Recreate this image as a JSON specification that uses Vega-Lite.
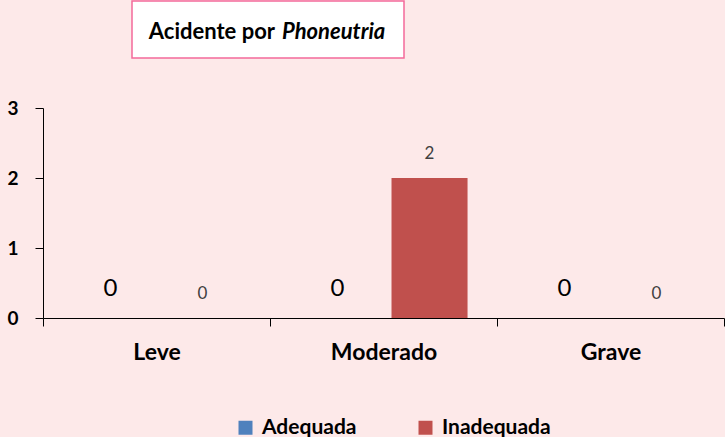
{
  "$schema": "https://vega.github.io/schema/vega-lite/v6.json",
  "background": "#FDE9E9",
  "padding": {"left": 6, "top": 0, "right": 0, "bottom": 80},
  "spacing": 40,
  "config": {
    "font": "Lato",
    "view": {"stroke": null}
  },
  "vconcat": [
    {
      "spacing": 0,
      "hconcat": [
        {
          "width": 88,
          "height": 57,
          "data": {"values": []},
          "mark": "point",
          "encoding": {},
          "view": {"stroke": null}
        },
        {
          "width": 272,
          "height": 57,
          "view": {"fill": "white", "stroke": "#F46A9B", "strokeWidth": 1.5},
          "layer": [
            {
              "data": {"values": [{"t": "Acidente por"}]},
              "mark": {"type": "text", "font": "Lato", "fontSize": 22, "fontWeight": "bold", "align": "right", "baseline": "middle", "dx": 7, "dy": 2, "color": "black"},
              "encoding": {"text": {"field": "t"}}
            },
            {
              "data": {"values": [{"t": "Phoneutria"}]},
              "mark": {"type": "text", "font": "Lato", "fontSize": 22, "fontWeight": "bold", "fontStyle": "italic", "align": "left", "baseline": "middle", "dx": 14, "dy": 2, "color": "black"},
              "encoding": {"text": {"field": "t"}}
            }
          ]
        }
      ]
    },
    {
      "width": 681,
      "height": 210,
      "data": {
        "values": [
          {"grau": "Leve", "conduta": "Adequada", "n": 0},
          {"grau": "Leve", "conduta": "Inadequada", "n": 0},
          {"grau": "Moderado", "conduta": "Adequada", "n": 0},
          {"grau": "Moderado", "conduta": "Inadequada", "n": 2},
          {"grau": "Grave", "conduta": "Adequada", "n": 0},
          {"grau": "Grave", "conduta": "Inadequada", "n": 0}
        ]
      },
      "encoding": {
        "x": {
          "field": "grau", "type": "nominal", "sort": ["Leve", "Moderado", "Grave"],
          "scale": {"paddingInner": 0, "paddingOuter": 0},
          "axis": {"title": null, "labelAngle": 0, "labelFontSize": 23, "labelFontWeight": "bold", "labelColor": "black", "labelPadding": 15, "tickSize": 8, "tickBand": "extent", "domainColor": "black", "tickColor": "black", "domainWidth": 1}
        },
        "xOffset": {
          "field": "conduta", "type": "nominal", "sort": ["Adequada", "Inadequada"],
          "scale": {"paddingInner": 0.174, "paddingOuter": 0.32}
        },
        "y": {
          "field": "n", "type": "quantitative",
          "scale": {"domain": [0, 3]},
          "axis": {"title": null, "values": [0, 1, 2, 3], "grid": false, "labelFontSize": 19, "labelFontWeight": "bold", "labelColor": "black", "labelPadding": 17, "tickSize": 8, "domainColor": "black", "tickColor": "black"}
        }
      },
      "layer": [
        {
          "mark": {"type": "bar"},
          "encoding": {
            "color": {
              "field": "conduta", "type": "nominal",
              "scale": {"domain": ["Adequada", "Inadequada"], "range": ["#4F81BD", "#C0504D"]},
              "legend": {"title": null, "orient": "none", "legendX": 192, "legendY": 416, "padding": 0, "direction": "horizontal", "symbolType": "square", "symbolSize": 196, "symbolStrokeWidth": 0, "labelFontSize": 21, "labelFontWeight": "bold", "labelColor": "black", "labelOffset": 6, "columnPadding": 58}
            }
          }
        },
        {
          "transform": [{"filter": "datum.conduta == 'Adequada'"}],
          "mark": {"type": "text", "fontSize": 24, "color": "black", "baseline": "middle", "dy": -29},
          "encoding": {"text": {"field": "n", "type": "quantitative"}}
        },
        {
          "transform": [{"filter": "datum.conduta == 'Inadequada'"}],
          "mark": {"type": "text", "fontSize": 17, "color": "#404040", "baseline": "middle", "dy": -24},
          "encoding": {"text": {"field": "n", "type": "quantitative"}}
        }
      ]
    }
  ]
}
